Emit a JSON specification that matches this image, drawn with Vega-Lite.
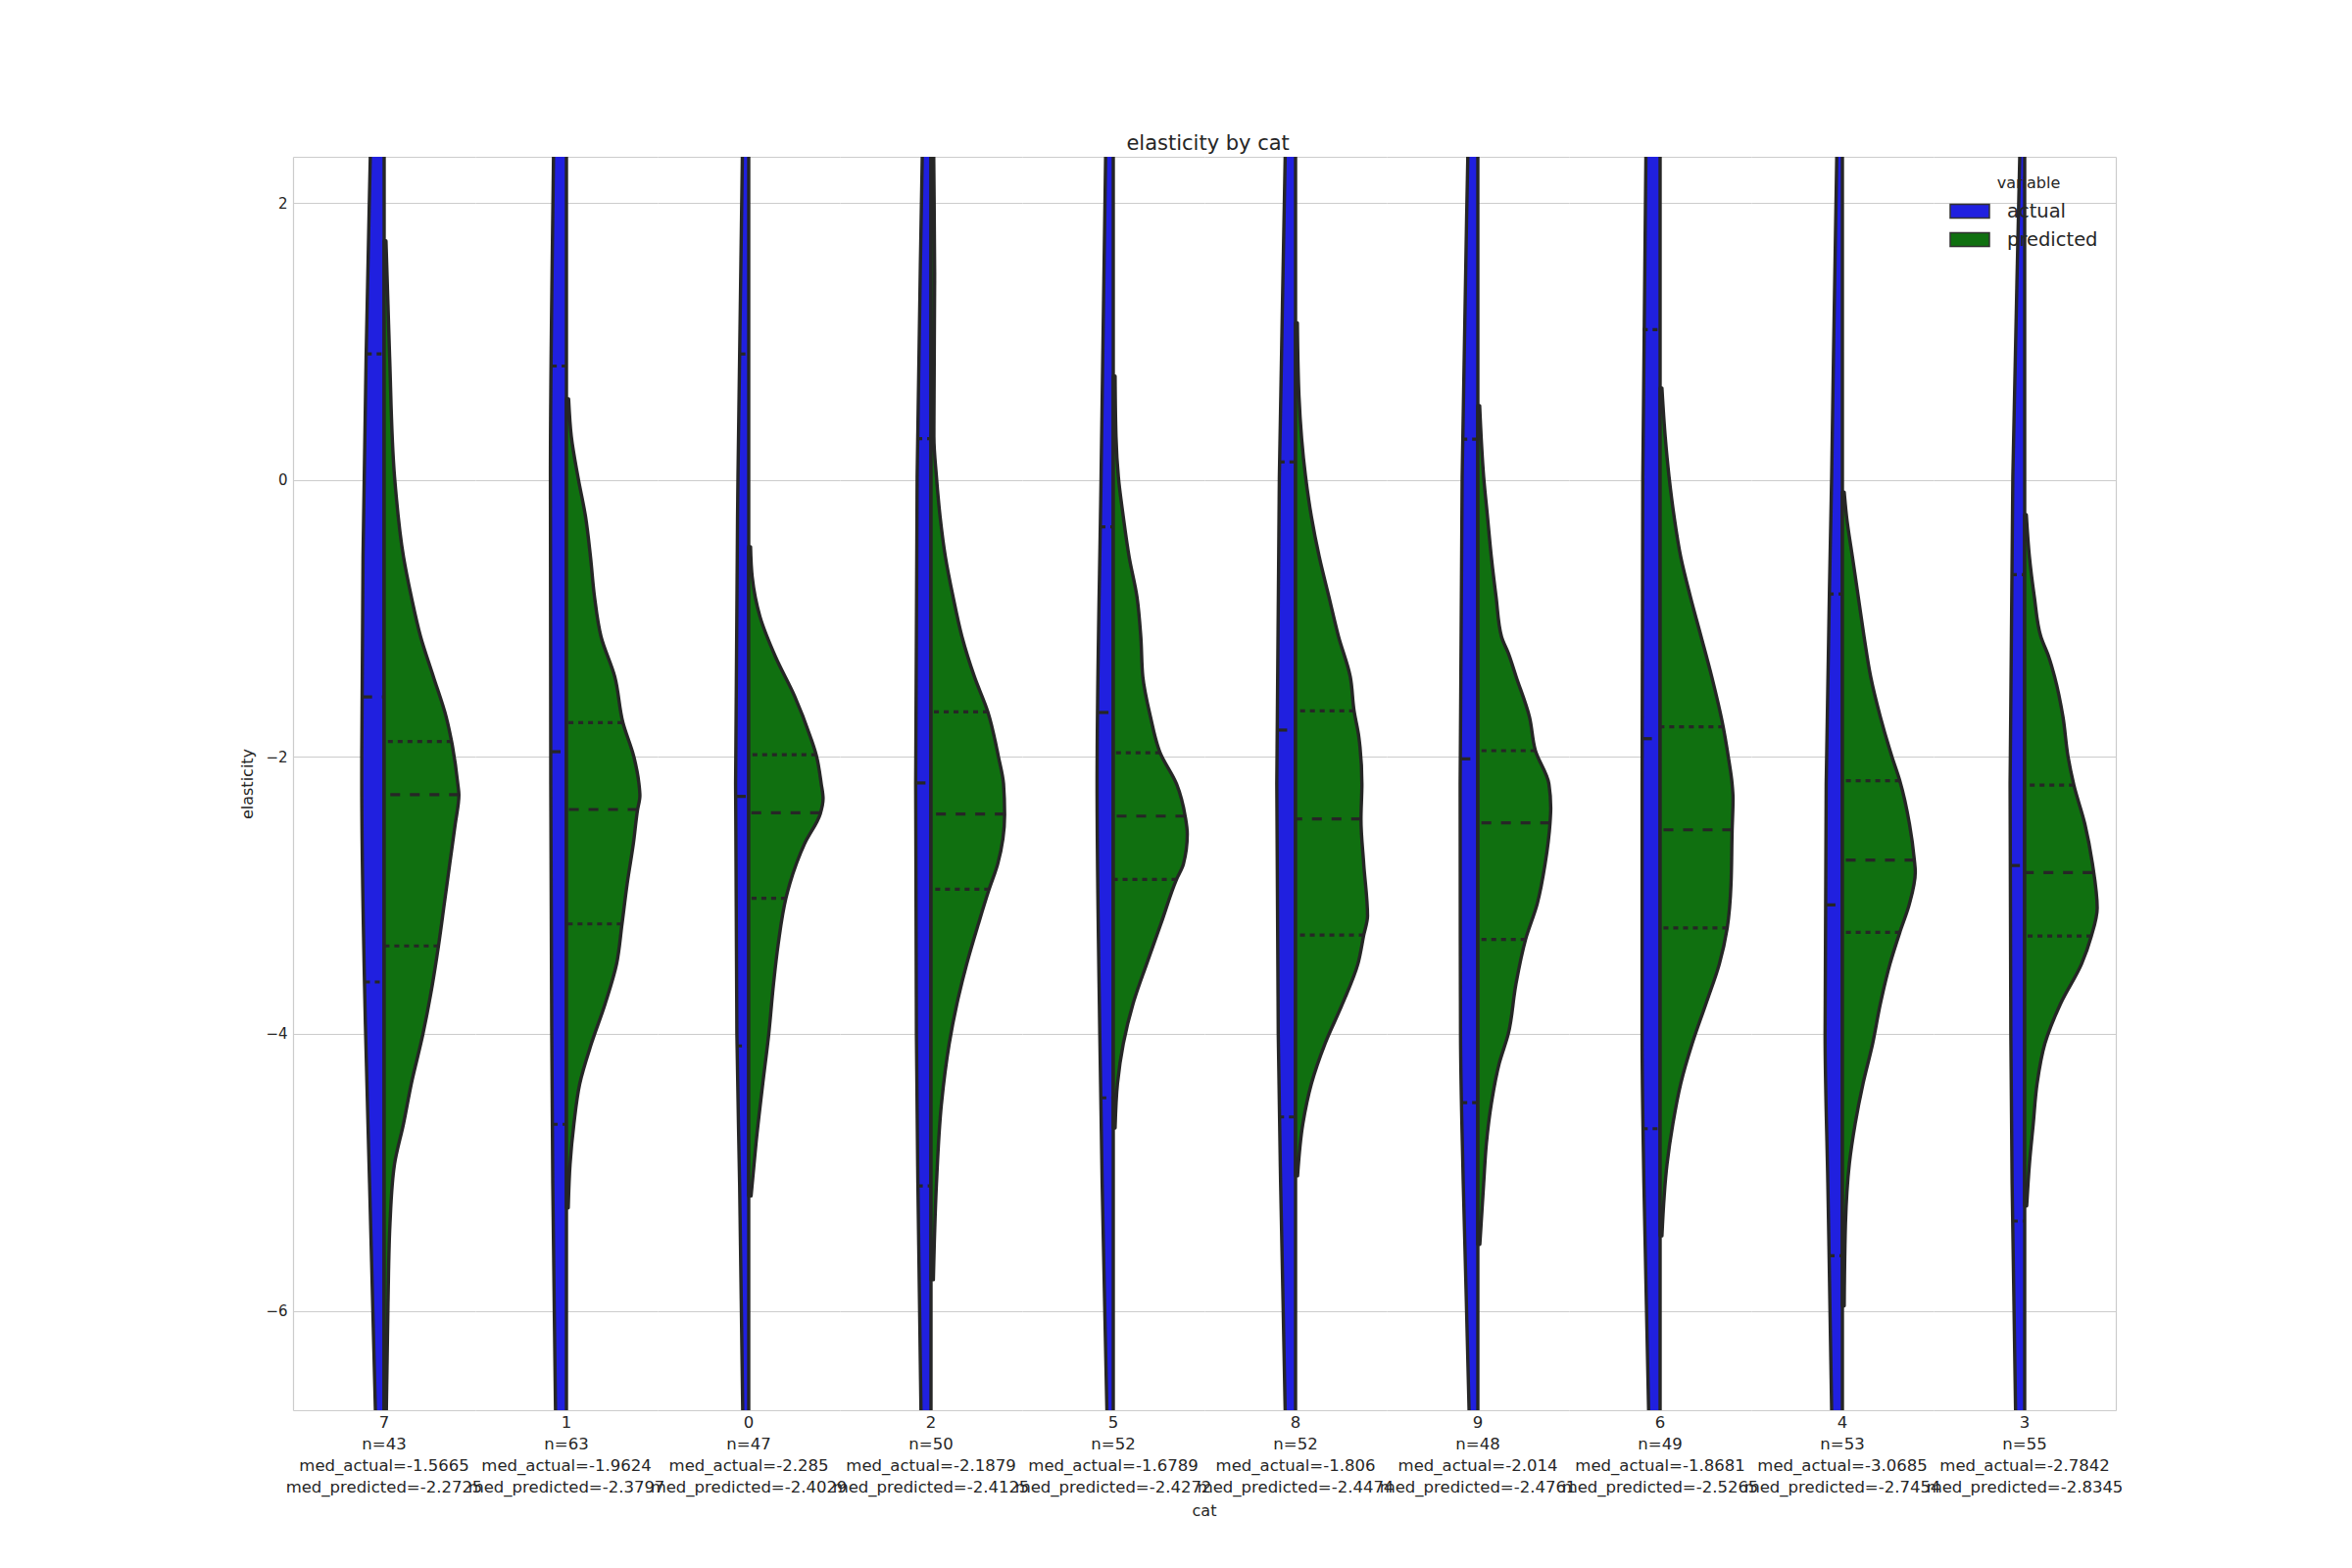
{
  "$schema": "https://vega.github.io/schema/vega-lite/v6.json",
  "background": "white",
  "padding": {"left": 244, "top": 136, "right": 10, "bottom": 10},
  "title": {"text": "elasticity by cat", "fontSize": 21, "fontWeight": "normal", "color": "#262626", "anchor": "middle", "offset": 3, "dx": 27, "font": "DejaVu Sans"},
  "datasets": {
    "cats": [
      {"cat": "7", "ord": 0, "label": "7|n=43|med_actual=-1.5665|med_predicted=-2.2725"},
      {"cat": "1", "ord": 1, "label": "1|n=63|med_actual=-1.9624|med_predicted=-2.3797"},
      {"cat": "0", "ord": 2, "label": "0|n=47|med_actual=-2.285|med_predicted=-2.4029"},
      {"cat": "2", "ord": 3, "label": "2|n=50|med_actual=-2.1879|med_predicted=-2.4125"},
      {"cat": "5", "ord": 4, "label": "5|n=52|med_actual=-1.6789|med_predicted=-2.4272"},
      {"cat": "8", "ord": 5, "label": "8|n=52|med_actual=-1.806|med_predicted=-2.4474"},
      {"cat": "9", "ord": 6, "label": "9|n=48|med_actual=-2.014|med_predicted=-2.4761"},
      {"cat": "6", "ord": 7, "label": "6|n=49|med_actual=-1.8681|med_predicted=-2.5265"},
      {"cat": "4", "ord": 8, "label": "4|n=53|med_actual=-3.0685|med_predicted=-2.7454"},
      {"cat": "3", "ord": 9, "label": "3|n=55|med_actual=-2.7842|med_predicted=-2.8345"}
    ],
    "violin": [
      {"cat": "7", "variable": "actual", "y": 3.0, "d": -0.065},
      {"cat": "7", "variable": "actual", "y": 2.334, "d": -0.076},
      {"cat": "7", "variable": "actual", "y": 0.89, "d": -0.099},
      {"cat": "7", "variable": "actual", "y": -0.55, "d": -0.116},
      {"cat": "7", "variable": "actual", "y": -2.195, "d": -0.123},
      {"cat": "7", "variable": "actual", "y": -3.93, "d": -0.103},
      {"cat": "7", "variable": "actual", "y": -5.08, "d": -0.08},
      {"cat": "7", "variable": "actual", "y": -6.72, "d": -0.048},
      {"cat": "7", "variable": "actual", "y": -7.4, "d": -0.035},
      {"cat": "7", "variable": "predicted", "y": 1.727, "d": 0.01},
      {"cat": "7", "variable": "predicted", "y": 0.89, "d": 0.03},
      {"cat": "7", "variable": "predicted", "y": 0.023, "d": 0.057},
      {"cat": "7", "variable": "predicted", "y": -0.554, "d": 0.106},
      {"cat": "7", "variable": "predicted", "y": -0.843, "d": 0.149},
      {"cat": "7", "variable": "predicted", "y": -1.132, "d": 0.2},
      {"cat": "7", "variable": "predicted", "y": -1.42, "d": 0.27},
      {"cat": "7", "variable": "predicted", "y": -1.71, "d": 0.34},
      {"cat": "7", "variable": "predicted", "y": -1.889, "d": 0.37},
      {"cat": "7", "variable": "predicted", "y": -2.195, "d": 0.404},
      {"cat": "7", "variable": "predicted", "y": -2.276, "d": 0.41},
      {"cat": "7", "variable": "predicted", "y": -2.484, "d": 0.39},
      {"cat": "7", "variable": "predicted", "y": -2.77, "d": 0.36},
      {"cat": "7", "variable": "predicted", "y": -3.06, "d": 0.33},
      {"cat": "7", "variable": "predicted", "y": -3.365, "d": 0.298},
      {"cat": "7", "variable": "predicted", "y": -3.64, "d": 0.265},
      {"cat": "7", "variable": "predicted", "y": -4.0, "d": 0.213},
      {"cat": "7", "variable": "predicted", "y": -4.36, "d": 0.149},
      {"cat": "7", "variable": "predicted", "y": -4.65, "d": 0.106},
      {"cat": "7", "variable": "predicted", "y": -4.94, "d": 0.057},
      {"cat": "7", "variable": "predicted", "y": -5.37, "d": 0.032},
      {"cat": "7", "variable": "predicted", "y": -5.95, "d": 0.021},
      {"cat": "7", "variable": "predicted", "y": -6.72, "d": 0.012},
      {"cat": "7", "variable": "predicted", "y": -7.2, "d": 0.01},

      {"cat": "1", "variable": "actual", "y": 3.0, "d": -0.065},
      {"cat": "1", "variable": "actual", "y": 2.334, "d": -0.071},
      {"cat": "1", "variable": "actual", "y": 0.023, "d": -0.088},
      {"cat": "1", "variable": "actual", "y": -2.195, "d": -0.086},
      {"cat": "1", "variable": "actual", "y": -3.93, "d": -0.081},
      {"cat": "1", "variable": "actual", "y": -5.08, "d": -0.075},
      {"cat": "1", "variable": "actual", "y": -6.72, "d": -0.06},
      {"cat": "1", "variable": "actual", "y": -7.4, "d": -0.055},
      {"cat": "1", "variable": "predicted", "y": 0.586, "d": 0.012},
      {"cat": "1", "variable": "predicted", "y": 0.312, "d": 0.027},
      {"cat": "1", "variable": "predicted", "y": 0.023, "d": 0.063},
      {"cat": "1", "variable": "predicted", "y": -0.266, "d": 0.105},
      {"cat": "1", "variable": "predicted", "y": -0.555, "d": 0.132},
      {"cat": "1", "variable": "predicted", "y": -0.843, "d": 0.154},
      {"cat": "1", "variable": "predicted", "y": -1.132, "d": 0.19},
      {"cat": "1", "variable": "predicted", "y": -1.42, "d": 0.265},
      {"cat": "1", "variable": "predicted", "y": -1.753, "d": 0.31},
      {"cat": "1", "variable": "predicted", "y": -1.999, "d": 0.37},
      {"cat": "1", "variable": "predicted", "y": -2.195, "d": 0.398},
      {"cat": "1", "variable": "predicted", "y": -2.28, "d": 0.403},
      {"cat": "1", "variable": "predicted", "y": -2.383, "d": 0.39},
      {"cat": "1", "variable": "predicted", "y": -2.628, "d": 0.367},
      {"cat": "1", "variable": "predicted", "y": -2.917, "d": 0.333},
      {"cat": "1", "variable": "predicted", "y": -3.206, "d": 0.305},
      {"cat": "1", "variable": "predicted", "y": -3.495, "d": 0.275},
      {"cat": "1", "variable": "predicted", "y": -3.784, "d": 0.212},
      {"cat": "1", "variable": "predicted", "y": -4.07, "d": 0.137},
      {"cat": "1", "variable": "predicted", "y": -4.36, "d": 0.073},
      {"cat": "1", "variable": "predicted", "y": -4.65, "d": 0.041},
      {"cat": "1", "variable": "predicted", "y": -4.94, "d": 0.02},
      {"cat": "1", "variable": "predicted", "y": -5.257, "d": 0.01},

      {"cat": "0", "variable": "actual", "y": 3.0, "d": -0.025},
      {"cat": "0", "variable": "actual", "y": 2.334, "d": -0.035},
      {"cat": "0", "variable": "actual", "y": 0.023, "d": -0.059},
      {"cat": "0", "variable": "actual", "y": -2.195, "d": -0.072},
      {"cat": "0", "variable": "actual", "y": -4.0, "d": -0.065},
      {"cat": "0", "variable": "actual", "y": -5.08, "d": -0.05},
      {"cat": "0", "variable": "actual", "y": -6.72, "d": -0.033},
      {"cat": "0", "variable": "actual", "y": -7.4, "d": -0.025},
      {"cat": "0", "variable": "predicted", "y": -0.482, "d": 0.01},
      {"cat": "0", "variable": "predicted", "y": -0.699, "d": 0.019},
      {"cat": "0", "variable": "predicted", "y": -0.988, "d": 0.062},
      {"cat": "0", "variable": "predicted", "y": -1.277, "d": 0.147},
      {"cat": "0", "variable": "predicted", "y": -1.565, "d": 0.253},
      {"cat": "0", "variable": "predicted", "y": -1.854, "d": 0.338},
      {"cat": "0", "variable": "predicted", "y": -1.984, "d": 0.37},
      {"cat": "0", "variable": "predicted", "y": -2.195, "d": 0.398},
      {"cat": "0", "variable": "predicted", "y": -2.3, "d": 0.408},
      {"cat": "0", "variable": "predicted", "y": -2.409, "d": 0.393},
      {"cat": "0", "variable": "predicted", "y": -2.628, "d": 0.306},
      {"cat": "0", "variable": "predicted", "y": -2.917, "d": 0.225},
      {"cat": "0", "variable": "predicted", "y": -3.021, "d": 0.204},
      {"cat": "0", "variable": "predicted", "y": -3.35, "d": 0.162},
      {"cat": "0", "variable": "predicted", "y": -3.64, "d": 0.136},
      {"cat": "0", "variable": "predicted", "y": -4.0, "d": 0.11},
      {"cat": "0", "variable": "predicted", "y": -4.36, "d": 0.077},
      {"cat": "0", "variable": "predicted", "y": -4.79, "d": 0.04},
      {"cat": "0", "variable": "predicted", "y": -5.17, "d": 0.013},

      {"cat": "2", "variable": "actual", "y": 3.0, "d": -0.04},
      {"cat": "2", "variable": "actual", "y": 2.334, "d": -0.048},
      {"cat": "2", "variable": "actual", "y": 0.023, "d": -0.076},
      {"cat": "2", "variable": "actual", "y": -2.195, "d": -0.084},
      {"cat": "2", "variable": "actual", "y": -4.0, "d": -0.08},
      {"cat": "2", "variable": "actual", "y": -5.08, "d": -0.072},
      {"cat": "2", "variable": "actual", "y": -6.72, "d": -0.055},
      {"cat": "2", "variable": "actual", "y": -7.4, "d": -0.05},
      {"cat": "2", "variable": "predicted", "y": 3.0, "d": 0.012},
      {"cat": "2", "variable": "predicted", "y": 2.334, "d": 0.015},
      {"cat": "2", "variable": "predicted", "y": 1.5, "d": 0.02},
      {"cat": "2", "variable": "predicted", "y": 0.312, "d": 0.016},
      {"cat": "2", "variable": "predicted", "y": 0.023, "d": 0.03},
      {"cat": "2", "variable": "predicted", "y": -0.266, "d": 0.05},
      {"cat": "2", "variable": "predicted", "y": -0.555, "d": 0.079},
      {"cat": "2", "variable": "predicted", "y": -0.843, "d": 0.121},
      {"cat": "2", "variable": "predicted", "y": -1.132, "d": 0.17},
      {"cat": "2", "variable": "predicted", "y": -1.42, "d": 0.238},
      {"cat": "2", "variable": "predicted", "y": -1.675, "d": 0.312},
      {"cat": "2", "variable": "predicted", "y": -1.999, "d": 0.37},
      {"cat": "2", "variable": "predicted", "y": -2.195, "d": 0.398},
      {"cat": "2", "variable": "predicted", "y": -2.415, "d": 0.404},
      {"cat": "2", "variable": "predicted", "y": -2.773, "d": 0.366},
      {"cat": "2", "variable": "predicted", "y": -2.955, "d": 0.319},
      {"cat": "2", "variable": "predicted", "y": -3.206, "d": 0.26},
      {"cat": "2", "variable": "predicted", "y": -3.495, "d": 0.196},
      {"cat": "2", "variable": "predicted", "y": -3.784, "d": 0.142},
      {"cat": "2", "variable": "predicted", "y": -4.07, "d": 0.1},
      {"cat": "2", "variable": "predicted", "y": -4.51, "d": 0.057},
      {"cat": "2", "variable": "predicted", "y": -5.08, "d": 0.03},
      {"cat": "2", "variable": "predicted", "y": -5.776, "d": 0.013},

      {"cat": "5", "variable": "actual", "y": 3.0, "d": -0.035},
      {"cat": "5", "variable": "actual", "y": 2.334, "d": -0.042},
      {"cat": "5", "variable": "actual", "y": 0.023, "d": -0.067},
      {"cat": "5", "variable": "actual", "y": -2.195, "d": -0.089},
      {"cat": "5", "variable": "actual", "y": -4.0, "d": -0.074},
      {"cat": "5", "variable": "actual", "y": -5.08, "d": -0.061},
      {"cat": "5", "variable": "actual", "y": -6.72, "d": -0.035},
      {"cat": "5", "variable": "actual", "y": -7.4, "d": -0.025},
      {"cat": "5", "variable": "predicted", "y": 0.751, "d": 0.01},
      {"cat": "5", "variable": "predicted", "y": 0.312, "d": 0.015},
      {"cat": "5", "variable": "predicted", "y": 0.023, "d": 0.028},
      {"cat": "5", "variable": "predicted", "y": -0.266, "d": 0.055},
      {"cat": "5", "variable": "predicted", "y": -0.555, "d": 0.087},
      {"cat": "5", "variable": "predicted", "y": -0.843, "d": 0.13},
      {"cat": "5", "variable": "predicted", "y": -1.132, "d": 0.151},
      {"cat": "5", "variable": "predicted", "y": -1.42, "d": 0.162},
      {"cat": "5", "variable": "predicted", "y": -1.71, "d": 0.204},
      {"cat": "5", "variable": "predicted", "y": -1.97, "d": 0.257},
      {"cat": "5", "variable": "predicted", "y": -2.195, "d": 0.347},
      {"cat": "5", "variable": "predicted", "y": -2.432, "d": 0.395},
      {"cat": "5", "variable": "predicted", "y": -2.556, "d": 0.406},
      {"cat": "5", "variable": "predicted", "y": -2.773, "d": 0.385},
      {"cat": "5", "variable": "predicted", "y": -2.885, "d": 0.347},
      {"cat": "5", "variable": "predicted", "y": -3.206, "d": 0.261},
      {"cat": "5", "variable": "predicted", "y": -3.495, "d": 0.183},
      {"cat": "5", "variable": "predicted", "y": -3.784, "d": 0.108},
      {"cat": "5", "variable": "predicted", "y": -4.07, "d": 0.055},
      {"cat": "5", "variable": "predicted", "y": -4.36, "d": 0.023},
      {"cat": "5", "variable": "predicted", "y": -4.68, "d": 0.01},

      {"cat": "8", "variable": "actual", "y": 3.0, "d": -0.05},
      {"cat": "8", "variable": "actual", "y": 2.334, "d": -0.057},
      {"cat": "8", "variable": "actual", "y": 0.023, "d": -0.089},
      {"cat": "8", "variable": "actual", "y": -2.195, "d": -0.103},
      {"cat": "8", "variable": "actual", "y": -4.0, "d": -0.095},
      {"cat": "8", "variable": "actual", "y": -5.08, "d": -0.082},
      {"cat": "8", "variable": "actual", "y": -6.72, "d": -0.057},
      {"cat": "8", "variable": "actual", "y": -7.4, "d": -0.05},
      {"cat": "8", "variable": "predicted", "y": 1.135, "d": 0.01},
      {"cat": "8", "variable": "predicted", "y": 0.601, "d": 0.019},
      {"cat": "8", "variable": "predicted", "y": 0.023, "d": 0.055},
      {"cat": "8", "variable": "predicted", "y": -0.266, "d": 0.087},
      {"cat": "8", "variable": "predicted", "y": -0.555, "d": 0.13},
      {"cat": "8", "variable": "predicted", "y": -0.843, "d": 0.183},
      {"cat": "8", "variable": "predicted", "y": -1.132, "d": 0.236},
      {"cat": "8", "variable": "predicted", "y": -1.42, "d": 0.3},
      {"cat": "8", "variable": "predicted", "y": -1.667, "d": 0.321},
      {"cat": "8", "variable": "predicted", "y": -1.854, "d": 0.347},
      {"cat": "8", "variable": "predicted", "y": -2.195, "d": 0.364},
      {"cat": "8", "variable": "predicted", "y": -2.452, "d": 0.359},
      {"cat": "8", "variable": "predicted", "y": -2.773, "d": 0.374},
      {"cat": "8", "variable": "predicted", "y": -3.148, "d": 0.395},
      {"cat": "8", "variable": "predicted", "y": -3.287, "d": 0.374},
      {"cat": "8", "variable": "predicted", "y": -3.495, "d": 0.342},
      {"cat": "8", "variable": "predicted", "y": -3.784, "d": 0.257},
      {"cat": "8", "variable": "predicted", "y": -4.07, "d": 0.162},
      {"cat": "8", "variable": "predicted", "y": -4.36, "d": 0.087},
      {"cat": "8", "variable": "predicted", "y": -4.65, "d": 0.04},
      {"cat": "8", "variable": "predicted", "y": -5.025, "d": 0.011},

      {"cat": "9", "variable": "actual", "y": 3.0, "d": -0.045},
      {"cat": "9", "variable": "actual", "y": 2.334, "d": -0.055},
      {"cat": "9", "variable": "actual", "y": 0.023, "d": -0.086},
      {"cat": "9", "variable": "actual", "y": -2.195, "d": -0.097},
      {"cat": "9", "variable": "actual", "y": -4.0, "d": -0.095},
      {"cat": "9", "variable": "actual", "y": -5.08, "d": -0.08},
      {"cat": "9", "variable": "actual", "y": -6.72, "d": -0.048},
      {"cat": "9", "variable": "actual", "y": -7.4, "d": -0.04},
      {"cat": "9", "variable": "predicted", "y": 0.537, "d": 0.01},
      {"cat": "9", "variable": "predicted", "y": 0.023, "d": 0.032},
      {"cat": "9", "variable": "predicted", "y": -0.266, "d": 0.053},
      {"cat": "9", "variable": "predicted", "y": -0.555, "d": 0.074},
      {"cat": "9", "variable": "predicted", "y": -0.843, "d": 0.1},
      {"cat": "9", "variable": "predicted", "y": -1.132, "d": 0.13},
      {"cat": "9", "variable": "predicted", "y": -1.25, "d": 0.167},
      {"cat": "9", "variable": "predicted", "y": -1.42, "d": 0.21},
      {"cat": "9", "variable": "predicted", "y": -1.71, "d": 0.283},
      {"cat": "9", "variable": "predicted", "y": -1.955, "d": 0.316},
      {"cat": "9", "variable": "predicted", "y": -2.195, "d": 0.39},
      {"cat": "9", "variable": "predicted", "y": -2.368, "d": 0.4},
      {"cat": "9", "variable": "predicted", "y": -2.48, "d": 0.396},
      {"cat": "9", "variable": "predicted", "y": -2.773, "d": 0.369},
      {"cat": "9", "variable": "predicted", "y": -3.06, "d": 0.326},
      {"cat": "9", "variable": "predicted", "y": -3.318, "d": 0.262},
      {"cat": "9", "variable": "predicted", "y": -3.64, "d": 0.209},
      {"cat": "9", "variable": "predicted", "y": -4.0, "d": 0.167},
      {"cat": "9", "variable": "predicted", "y": -4.215, "d": 0.117},
      {"cat": "9", "variable": "predicted", "y": -4.505, "d": 0.074},
      {"cat": "9", "variable": "predicted", "y": -4.79, "d": 0.047},
      {"cat": "9", "variable": "predicted", "y": -5.08, "d": 0.032},
      {"cat": "9", "variable": "predicted", "y": -5.52, "d": 0.011},

      {"cat": "6", "variable": "actual", "y": 3.0, "d": -0.07},
      {"cat": "6", "variable": "actual", "y": 2.334, "d": -0.078},
      {"cat": "6", "variable": "actual", "y": 0.023, "d": -0.095},
      {"cat": "6", "variable": "actual", "y": -2.195, "d": -0.099},
      {"cat": "6", "variable": "actual", "y": -4.0, "d": -0.099},
      {"cat": "6", "variable": "actual", "y": -5.08, "d": -0.089},
      {"cat": "6", "variable": "actual", "y": -6.72, "d": -0.063},
      {"cat": "6", "variable": "actual", "y": -7.4, "d": -0.055},
      {"cat": "6", "variable": "predicted", "y": 0.664, "d": 0.01},
      {"cat": "6", "variable": "predicted", "y": 0.312, "d": 0.028},
      {"cat": "6", "variable": "predicted", "y": 0.023, "d": 0.049},
      {"cat": "6", "variable": "predicted", "y": -0.266, "d": 0.077},
      {"cat": "6", "variable": "predicted", "y": -0.555, "d": 0.113},
      {"cat": "6", "variable": "predicted", "y": -0.843, "d": 0.166},
      {"cat": "6", "variable": "predicted", "y": -1.132, "d": 0.225},
      {"cat": "6", "variable": "predicted", "y": -1.42, "d": 0.283},
      {"cat": "6", "variable": "predicted", "y": -1.782, "d": 0.346},
      {"cat": "6", "variable": "predicted", "y": -1.999, "d": 0.374},
      {"cat": "6", "variable": "predicted", "y": -2.195, "d": 0.395},
      {"cat": "6", "variable": "predicted", "y": -2.3, "d": 0.4},
      {"cat": "6", "variable": "predicted", "y": -2.533, "d": 0.395},
      {"cat": "6", "variable": "predicted", "y": -2.917, "d": 0.389},
      {"cat": "6", "variable": "predicted", "y": -3.235, "d": 0.368},
      {"cat": "6", "variable": "predicted", "y": -3.495, "d": 0.325},
      {"cat": "6", "variable": "predicted", "y": -3.784, "d": 0.251},
      {"cat": "6", "variable": "predicted", "y": -4.07, "d": 0.176},
      {"cat": "6", "variable": "predicted", "y": -4.36, "d": 0.113},
      {"cat": "6", "variable": "predicted", "y": -4.65, "d": 0.07},
      {"cat": "6", "variable": "predicted", "y": -4.94, "d": 0.038},
      {"cat": "6", "variable": "predicted", "y": -5.459, "d": 0.01},

      {"cat": "4", "variable": "actual", "y": 3.0, "d": -0.02},
      {"cat": "4", "variable": "actual", "y": 2.334, "d": -0.031},
      {"cat": "4", "variable": "actual", "y": 0.023, "d": -0.059},
      {"cat": "4", "variable": "actual", "y": -2.195, "d": -0.089},
      {"cat": "4", "variable": "actual", "y": -4.0, "d": -0.095},
      {"cat": "4", "variable": "actual", "y": -5.08, "d": -0.08},
      {"cat": "4", "variable": "actual", "y": -6.72, "d": -0.059},
      {"cat": "4", "variable": "actual", "y": -7.4, "d": -0.053},
      {"cat": "4", "variable": "predicted", "y": -0.087, "d": 0.01},
      {"cat": "4", "variable": "predicted", "y": -0.266, "d": 0.023},
      {"cat": "4", "variable": "predicted", "y": -0.555, "d": 0.055},
      {"cat": "4", "variable": "predicted", "y": -0.843, "d": 0.087},
      {"cat": "4", "variable": "predicted", "y": -1.132, "d": 0.119},
      {"cat": "4", "variable": "predicted", "y": -1.42, "d": 0.155},
      {"cat": "4", "variable": "predicted", "y": -1.71, "d": 0.208},
      {"cat": "4", "variable": "predicted", "y": -1.999, "d": 0.272},
      {"cat": "4", "variable": "predicted", "y": -2.172, "d": 0.315},
      {"cat": "4", "variable": "predicted", "y": -2.484, "d": 0.368},
      {"cat": "4", "variable": "predicted", "y": -2.747, "d": 0.395},
      {"cat": "4", "variable": "predicted", "y": -2.83, "d": 0.4},
      {"cat": "4", "variable": "predicted", "y": -3.06, "d": 0.368},
      {"cat": "4", "variable": "predicted", "y": -3.267, "d": 0.315},
      {"cat": "4", "variable": "predicted", "y": -3.495, "d": 0.261},
      {"cat": "4", "variable": "predicted", "y": -3.784, "d": 0.208},
      {"cat": "4", "variable": "predicted", "y": -4.07, "d": 0.166},
      {"cat": "4", "variable": "predicted", "y": -4.36, "d": 0.113},
      {"cat": "4", "variable": "predicted", "y": -4.65, "d": 0.07},
      {"cat": "4", "variable": "predicted", "y": -4.94, "d": 0.038},
      {"cat": "4", "variable": "predicted", "y": -5.37, "d": 0.017},
      {"cat": "4", "variable": "predicted", "y": -5.965, "d": 0.01},

      {"cat": "3", "variable": "actual", "y": 3.0, "d": -0.017},
      {"cat": "3", "variable": "actual", "y": 2.334, "d": -0.027},
      {"cat": "3", "variable": "actual", "y": 0.023, "d": -0.065},
      {"cat": "3", "variable": "actual", "y": -2.195, "d": -0.08},
      {"cat": "3", "variable": "actual", "y": -4.0, "d": -0.076},
      {"cat": "3", "variable": "actual", "y": -5.08, "d": -0.069},
      {"cat": "3", "variable": "actual", "y": -6.72, "d": -0.05},
      {"cat": "3", "variable": "actual", "y": -7.4, "d": -0.045},
      {"cat": "3", "variable": "predicted", "y": -0.251, "d": 0.009},
      {"cat": "3", "variable": "predicted", "y": -0.555, "d": 0.026},
      {"cat": "3", "variable": "predicted", "y": -0.843, "d": 0.053},
      {"cat": "3", "variable": "predicted", "y": -1.132, "d": 0.089},
      {"cat": "3", "variable": "predicted", "y": -1.277, "d": 0.132},
      {"cat": "3", "variable": "predicted", "y": -1.42, "d": 0.164},
      {"cat": "3", "variable": "predicted", "y": -1.71, "d": 0.21},
      {"cat": "3", "variable": "predicted", "y": -1.999, "d": 0.238},
      {"cat": "3", "variable": "predicted", "y": -2.204, "d": 0.27},
      {"cat": "3", "variable": "predicted", "y": -2.484, "d": 0.33},
      {"cat": "3", "variable": "predicted", "y": -2.773, "d": 0.372},
      {"cat": "3", "variable": "predicted", "y": -3.09, "d": 0.398},
      {"cat": "3", "variable": "predicted", "y": -3.293, "d": 0.366},
      {"cat": "3", "variable": "predicted", "y": -3.495, "d": 0.312},
      {"cat": "3", "variable": "predicted", "y": -3.784, "d": 0.196},
      {"cat": "3", "variable": "predicted", "y": -4.07, "d": 0.111},
      {"cat": "3", "variable": "predicted", "y": -4.36, "d": 0.068},
      {"cat": "3", "variable": "predicted", "y": -4.65, "d": 0.047},
      {"cat": "3", "variable": "predicted", "y": -4.94, "d": 0.026},
      {"cat": "3", "variable": "predicted", "y": -5.242, "d": 0.011},

      {"cat": "7", "variable": "actual", "stat": "q75", "y": 0.91, "d": -0.095},
      {"cat": "7", "variable": "actual", "stat": "median", "y": -1.5665, "d": -0.12},
      {"cat": "7", "variable": "actual", "stat": "q25", "y": -3.625, "d": -0.105},
      {"cat": "7", "variable": "predicted", "stat": "q75", "y": -1.889, "d": 0.37},
      {"cat": "7", "variable": "predicted", "stat": "median", "y": -2.2725, "d": 0.41},
      {"cat": "7", "variable": "predicted", "stat": "q25", "y": -3.365, "d": 0.298},
      {"cat": "1", "variable": "actual", "stat": "q75", "y": 0.823, "d": -0.08},
      {"cat": "1", "variable": "actual", "stat": "median", "y": -1.9624, "d": -0.086},
      {"cat": "1", "variable": "actual", "stat": "q25", "y": -4.653, "d": -0.075},
      {"cat": "1", "variable": "predicted", "stat": "q75", "y": -1.753, "d": 0.307},
      {"cat": "1", "variable": "predicted", "stat": "median", "y": -2.3797, "d": 0.39},
      {"cat": "1", "variable": "predicted", "stat": "q25", "y": -3.206, "d": 0.303},
      {"cat": "0", "variable": "actual", "stat": "q75", "y": 0.91, "d": -0.045},
      {"cat": "0", "variable": "actual", "stat": "median", "y": -2.285, "d": -0.07},
      {"cat": "0", "variable": "actual", "stat": "q25", "y": -4.087, "d": -0.064},
      {"cat": "0", "variable": "predicted", "stat": "q75", "y": -1.984, "d": 0.37},
      {"cat": "0", "variable": "predicted", "stat": "median", "y": -2.4029, "d": 0.391},
      {"cat": "0", "variable": "predicted", "stat": "q25", "y": -3.021, "d": 0.204},
      {"cat": "2", "variable": "actual", "stat": "q75", "y": 0.298, "d": -0.075},
      {"cat": "2", "variable": "actual", "stat": "median", "y": -2.1879, "d": -0.084},
      {"cat": "2", "variable": "actual", "stat": "q25", "y": -5.098, "d": -0.072},
      {"cat": "2", "variable": "predicted", "stat": "q75", "y": -1.675, "d": 0.312},
      {"cat": "2", "variable": "predicted", "stat": "median", "y": -2.4125, "d": 0.404},
      {"cat": "2", "variable": "predicted", "stat": "q25", "y": -2.955, "d": 0.319},
      {"cat": "5", "variable": "actual", "stat": "q75", "y": -0.338, "d": -0.07},
      {"cat": "5", "variable": "actual", "stat": "median", "y": -1.6789, "d": -0.08},
      {"cat": "5", "variable": "actual", "stat": "q25", "y": -4.462, "d": -0.065},
      {"cat": "5", "variable": "predicted", "stat": "q75", "y": -1.97, "d": 0.257},
      {"cat": "5", "variable": "predicted", "stat": "median", "y": -2.4272, "d": 0.395},
      {"cat": "5", "variable": "predicted", "stat": "q25", "y": -2.885, "d": 0.347},
      {"cat": "8", "variable": "actual", "stat": "q75", "y": 0.13, "d": -0.087},
      {"cat": "8", "variable": "actual", "stat": "median", "y": -1.806, "d": -0.1},
      {"cat": "8", "variable": "actual", "stat": "q25", "y": -4.6, "d": -0.09},
      {"cat": "8", "variable": "predicted", "stat": "q75", "y": -1.667, "d": 0.321},
      {"cat": "8", "variable": "predicted", "stat": "median", "y": -2.4474, "d": 0.359},
      {"cat": "8", "variable": "predicted", "stat": "q25", "y": -3.287, "d": 0.374},
      {"cat": "9", "variable": "actual", "stat": "q75", "y": 0.295, "d": -0.085},
      {"cat": "9", "variable": "actual", "stat": "median", "y": -2.014, "d": -0.095},
      {"cat": "9", "variable": "actual", "stat": "q25", "y": -4.497, "d": -0.085},
      {"cat": "9", "variable": "predicted", "stat": "q75", "y": -1.955, "d": 0.316},
      {"cat": "9", "variable": "predicted", "stat": "median", "y": -2.4761, "d": 0.396},
      {"cat": "9", "variable": "predicted", "stat": "q25", "y": -3.318, "d": 0.262},
      {"cat": "6", "variable": "actual", "stat": "q75", "y": 1.086, "d": -0.095},
      {"cat": "6", "variable": "actual", "stat": "median", "y": -1.8681, "d": -0.099},
      {"cat": "6", "variable": "actual", "stat": "q25", "y": -4.685, "d": -0.095},
      {"cat": "6", "variable": "predicted", "stat": "q75", "y": -1.782, "d": 0.346},
      {"cat": "6", "variable": "predicted", "stat": "median", "y": -2.5265, "d": 0.395},
      {"cat": "6", "variable": "predicted", "stat": "q25", "y": -3.235, "d": 0.368},
      {"cat": "4", "variable": "actual", "stat": "q75", "y": -0.823, "d": -0.075},
      {"cat": "4", "variable": "actual", "stat": "median", "y": -3.0685, "d": -0.092},
      {"cat": "4", "variable": "actual", "stat": "q25", "y": -5.603, "d": -0.07},
      {"cat": "4", "variable": "predicted", "stat": "q75", "y": -2.172, "d": 0.315},
      {"cat": "4", "variable": "predicted", "stat": "median", "y": -2.7454, "d": 0.395},
      {"cat": "4", "variable": "predicted", "stat": "q25", "y": -3.267, "d": 0.315},
      {"cat": "3", "variable": "actual", "stat": "q75", "y": -0.684, "d": -0.07},
      {"cat": "3", "variable": "actual", "stat": "median", "y": -2.7842, "d": -0.08},
      {"cat": "3", "variable": "actual", "stat": "q25", "y": -5.352, "d": -0.065},
      {"cat": "3", "variable": "predicted", "stat": "q75", "y": -2.204, "d": 0.27},
      {"cat": "3", "variable": "predicted", "stat": "median", "y": -2.8345, "d": 0.372},
      {"cat": "3", "variable": "predicted", "stat": "q25", "y": -3.293, "d": 0.366}
    ]
  },
  "data": {"name": "violin"},
  "transform": [
    {"lookup": "cat", "from": {"data": {"name": "cats"}, "key": "cat", "fields": ["label", "ord"]}}
  ],
  "facet": {
    "column": {
      "field": "label",
      "type": "nominal",
      "sort": {"field": "ord", "op": "min"},
      "title": "cat",
      "header": {
        "labelOrient": "bottom",
        "titleOrient": "bottom",
        "labelExpr": "split(datum.value, '|')",
        "labelFont": "DejaVu Sans",
        "labelFontSize": 16.5,
        "labelLineHeight": 22,
        "labelBaseline": "top",
        "labelPadding": 5,
        "labelColor": "#262626",
        "titleFont": "DejaVu Sans",
        "titleFontSize": 16,
        "titleFontWeight": "normal",
        "titleColor": "#262626",
        "titlePadding": -3
      }
    }
  },
  "spacing": 0,
  "spec": {
    "width": 186,
    "height": 1279,
    "layer": [
      {
        "transform": [{"filter": "datum.stat == null"}],
        "mark": {"type": "area", "orient": "horizontal", "interpolate": "monotone", "stroke": "#262626", "strokeWidth": 3.4, "strokeJoin": "round", "opacity": 1, "clip": true},
        "encoding": {
          "y": {
            "field": "y", "type": "quantitative",
            "scale": {"domain": [-6.718, 2.334], "nice": false, "zero": false},
            "axis": {"orient": "left", "values": [-6, -4, -2, 0, 2], "title": "elasticity", "grid": true, "gridColor": "#cccccc", "gridWidth": 1, "domain": true, "domainColor": "#cccccc", "domainWidth": 1.2, "ticks": false, "labelFontSize": 15, "labelPadding": 6, "labelColor": "#262626", "titleFontSize": 16, "titleFontWeight": "normal", "titleColor": "#262626", "titlePadding": 10}
          },
          "x": {
            "field": "d", "type": "quantitative",
            "scale": {"domain": [-0.5, 0.5], "nice": false, "zero": false},
            "axis": {"orient": "bottom", "labels": false, "ticks": false, "grid": false, "title": null, "domain": true, "domainColor": "#cccccc", "domainWidth": 1.2, "minExtent": 0}
          },
          "x2": {"datum": 0},
          "fill": {
            "field": "variable", "type": "nominal",
            "scale": {"domain": ["actual", "predicted"], "range": ["#2020df", "#107010"]},
            "legend": {
              "title": "variable", "orient": "none", "legendX": 1700, "legendY": 18.5, "padding": 0,
              "titleFontSize": 16, "titleFontWeight": "normal", "titleColor": "#262626", "titleAnchor": "middle", "titlePadding": 10,
              "labelFontSize": 19.5, "labelColor": "#262626", "labelOffset": 27,
              "symbolType": "M-2,-0.7H2V0.7H-2Z", "symbolSize": 400, "symbolStrokeColor": "#333333", "symbolStrokeWidth": 1.5, "symbolOpacity": 1,
              "rowPadding": 8
            }
          }
        }
      },
      {
        "transform": [{"filter": "datum.stat != null"}],
        "mark": {"type": "rule", "stroke": "#262626", "strokeWidth": 3.2, "clip": true},
        "encoding": {
          "y": {"field": "y", "type": "quantitative", "axis": {"orient": "right", "labels": false, "ticks": false, "grid": false, "title": null, "domain": true, "domainColor": "#cccccc", "domainWidth": 1.2, "minExtent": 0}},
          "x": {"field": "d", "type": "quantitative", "axis": {"orient": "top", "labels": false, "ticks": false, "grid": false, "title": null, "domain": true, "domainColor": "#cccccc", "domainWidth": 1.2, "minExtent": 0}},
          "x2": {"datum": 0},
          "strokeDash": {"field": "stat", "type": "nominal", "scale": {"domain": ["q25", "median", "q75"], "range": [[5, 5], [10, 10], [5, 5]]}, "legend": null}
        }
      }
    ],
    "resolve": {"axis": {"x": "independent", "y": "independent"}}
  },
  "config": {
    "font": "DejaVu Sans",
    "view": {"stroke": null},
    "axis": {"labelFont": "DejaVu Sans", "titleFont": "DejaVu Sans"},
    "legend": {"labelFont": "DejaVu Sans", "titleFont": "DejaVu Sans"}
  }
}
